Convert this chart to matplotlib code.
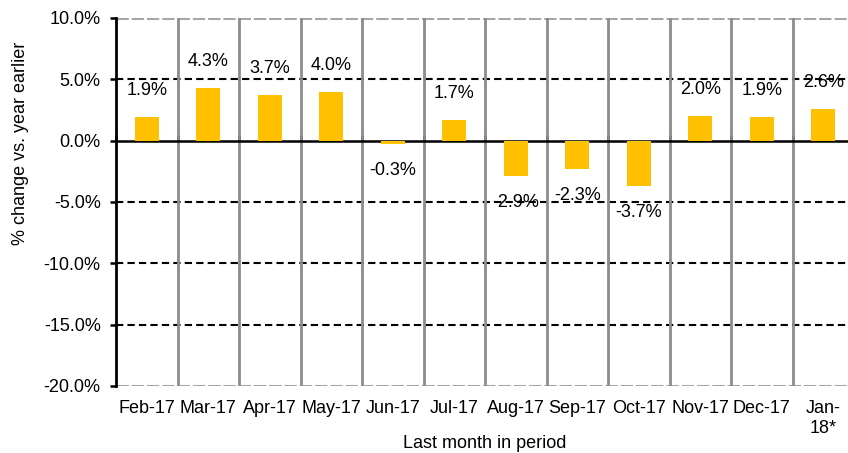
import numpy as np
import matplotlib
matplotlib.use("Agg")
import matplotlib.pyplot as plt
from matplotlib.ticker import FuncFormatter

plt.rcParams["font.family"] = ["Liberation Sans", "DejaVu Sans"]

# ---- data ----
months = ["Feb-17", "Mar-17", "Apr-17", "May-17", "Jun-17", "Jul-17", "Aug-17",
          "Sep-17", "Oct-17", "Nov-17", "Dec-17", "Jan-\n18*"]
pct_change = [1.9, 4.3, 3.7, 4.0, -0.3, 1.7, -2.9, -2.3, -3.7, 2.0, 1.9, 2.6]
y_ticks = [10, 5, 0, -5, -10, -15, -20]

BAR = "#FFC000"
GRID_V = "#8c8c8c"
FS = 13

fig = plt.figure(figsize=(8.48, 4.53), dpi=100)
ax = fig.add_axes([116 / 848, 1 - 386 / 453, 738 / 848, 368 / 453])

x = np.arange(len(months))
ax.bar(x, pct_change, width=0.39, color=BAR, zorder=3)

# value labels, "outside end"
for xi, v in zip(x, pct_change):
    off = 19 if v >= 0 else -19
    ax.annotate(f"{v:.1f}%", (xi, v), xytext=(0, off), textcoords="offset points",
                ha="center", va="center", fontsize=FS, zorder=4)

ax.set_xlim(-0.5, len(months) - 0.5)
ax.set_ylim(-20, 10)

# horizontal gridlines
for t in y_ticks:
    if t == 0:
        ax.axhline(t, color="black", lw=1.8, zorder=2)
    elif t in (10, -20):
        ax.axhline(t, color="#a6a6a6", lw=2.2, ls=(0, (4, 1)), zorder=1)
    else:
        ax.axhline(t, color="black", lw=1.5, ls=(0, (3.5, 2)), zorder=1)

# vertical gridlines at category boundaries
ax.set_xticks(x)
ax.set_xticklabels(months, fontsize=FS, linespacing=1.25)
ax.set_xticks(x[:-1] + 0.5, minor=True)
ax.grid(True, which="minor", axis="x", color=GRID_V, lw=2, zorder=1)
ax.tick_params(axis="x", which="both", length=0, pad=10)

# tick marks on zero line
sec = ax.secondary_xaxis(20 / 30)
sec.set_xticks(np.arange(len(months) + 1) - 0.5)
sec.set_xticklabels([])
sec.tick_params(direction="out", length=4, width=2, color="black")
sec.spines["bottom"].set_visible(False)
sec.spines["top"].set_visible(False)

ax.set_yticks(y_ticks)
ax.yaxis.set_major_formatter(FuncFormatter(lambda v, _: f"{v:.1f}%"))
ax.tick_params(axis="y", labelsize=FS, length=4, width=1.8, pad=7)

for s in ("top", "right", "bottom"):
    ax.spines[s].set_visible(False)
ax.spines["left"].set_linewidth(2)
ax.spines["left"].set_zorder(5)

ax.set_xlabel("Last month in period", fontsize=FS)
ax.xaxis.set_label_coords(0.5, -0.133)
ax.set_ylabel("% change vs. year earlier", fontsize=FS)
ax.yaxis.set_label_coords(-0.118, 0.66)

fig.savefig("out.png", dpi=100)
